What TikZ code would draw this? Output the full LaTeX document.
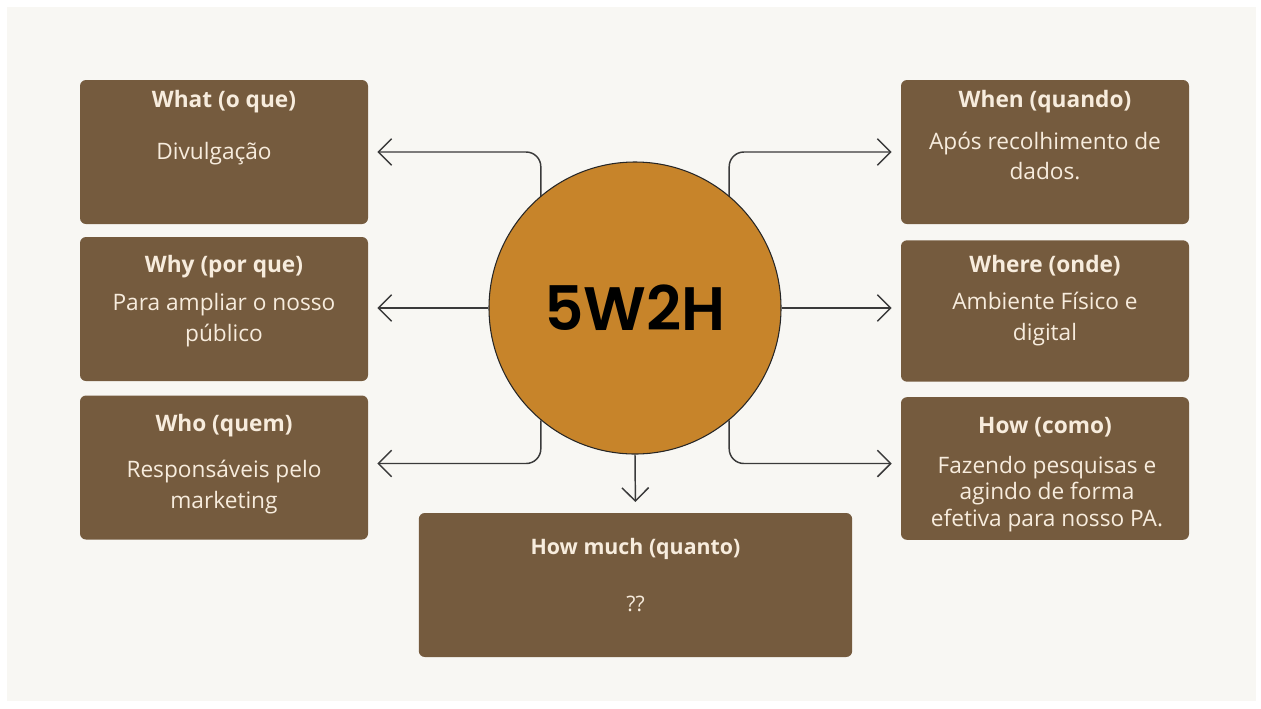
\documentclass[tikz,border=0pt]{standalone}
\usepackage{fontspec}
\setmainfont{Open Sans}
\newfontfamily\popp{Poppins}[UprightFont=* SemiBold]
\usetikzlibrary{arrows.meta}
\definecolor{bg}{HTML}{F8F7F3}
\definecolor{boxc}{HTML}{755B3E}
\definecolor{circc}{HTML}{C7842A}
\definecolor{txtc}{HTML}{F7ECDD}
\definecolor{linec}{HTML}{3A3A3A}
\tikzset{
  card/.style={fill=boxc, rounded corners=4.5pt, inner sep=0pt},
  ttl/.style={text=txtc, font=\bfseries\fontsize{17}{21}\selectfont, inner sep=0pt, anchor=center},
  bdy/.style={text=txtc, font=\fontsize{17}{23}\selectfont, align=center, inner sep=0pt, anchor=center},
  conn/.style={draw=linec, line width=1.1pt, rounded corners=11pt, -{Straight Barb[length=10pt,width=20pt,line width=1.1pt]}, shorten >=6.75pt},
}
\begin{document}
\begin{tikzpicture}[x=0.75pt,y=-0.75pt]
\useasboundingbox (0,0) rectangle (1261,708);
\fill[white] (0,0) rectangle (1261,708);
\fill[bg] (7,7) rectangle (1256,701);
% cards
\node[card, minimum width=216pt, minimum height=108pt] (what) at (224,152) {};
\node[card, minimum width=216pt, minimum height=108pt] (why) at (224,309) {};
\node[card, minimum width=216pt, minimum height=108pt] (who) at (224,467.5) {};
\node[card, minimum width=216pt, minimum height=108pt] (when) at (1045,152) {};
\node[card, minimum width=216pt, minimum height=106pt] (where) at (1045,311) {};
\node[card, minimum width=216pt, minimum height=107pt] (how) at (1045,468.5) {};
\node[card, minimum width=325pt, minimum height=108pt] (hm) at (635.5,585) {};
% titles
\node[ttl] (twhat) at (224,102) {What (o que)};
\node[ttl] (twhy) at (224,267) {Why (por que)};
\node[ttl] (twho) at (224,426) {Who (quem)};
\node[ttl] (twhen) at (1045,102) {When (quando)};
\node[ttl] (twhere) at (1045,266) {Where (onde)};
\node[ttl] (thow) at (1045,427) {How (como)};
\node[ttl, font=\bfseries\fontsize{16}{20}\selectfont] (thm) at (635.5,549) {How much (quanto)};
% bodies
\node[bdy] (bwhat) at (214,154) {Divulgação};
\node[bdy] (bwhy) at (224,320) {Para ampliar o nosso\\público};
\node[bdy] (bwho) at (224,487) {Responsáveis pelo\\marketing};
\node[bdy] (bwhen) at (1045,156) {Após recolhimento de\\dados.};
\node[bdy] (bwhere) at (1045,319) {Ambiente Físico e\\digital};
\node[bdy, font=\fontsize{17}{20}\selectfont] (bhow) at (1047,494) {Fazendo pesquisas e\\agindo de forma\\efetiva para nosso PA.};
\node[bdy, font=\fontsize{16}{20}\selectfont] (bhm) at (635.5,604) {??};
% center circle
\node[circle, fill=circc, draw=black!85, line width=0.8pt, minimum size=219pt, inner sep=0pt,
      font=\popp\fontsize{46}{50}\selectfont] (c) at (635,308) {5W2H};
% connectors
\draw[conn] (c.130) |- (what.east);
\draw[conn] (c.west) -- (c.west -| why.east);
\draw[conn] (c.230) |- ([yshift=3pt]who.east);
\draw[conn] (c.50) |- (when.west);
\draw[conn] (c.east) -- (c.east -| where.west);
\draw[conn] (c.310) |- ([yshift=3.75pt]how.west);
\draw[conn, shorten >=8pt] (c.south) -- (hm.north);
\end{tikzpicture}
\end{document}
